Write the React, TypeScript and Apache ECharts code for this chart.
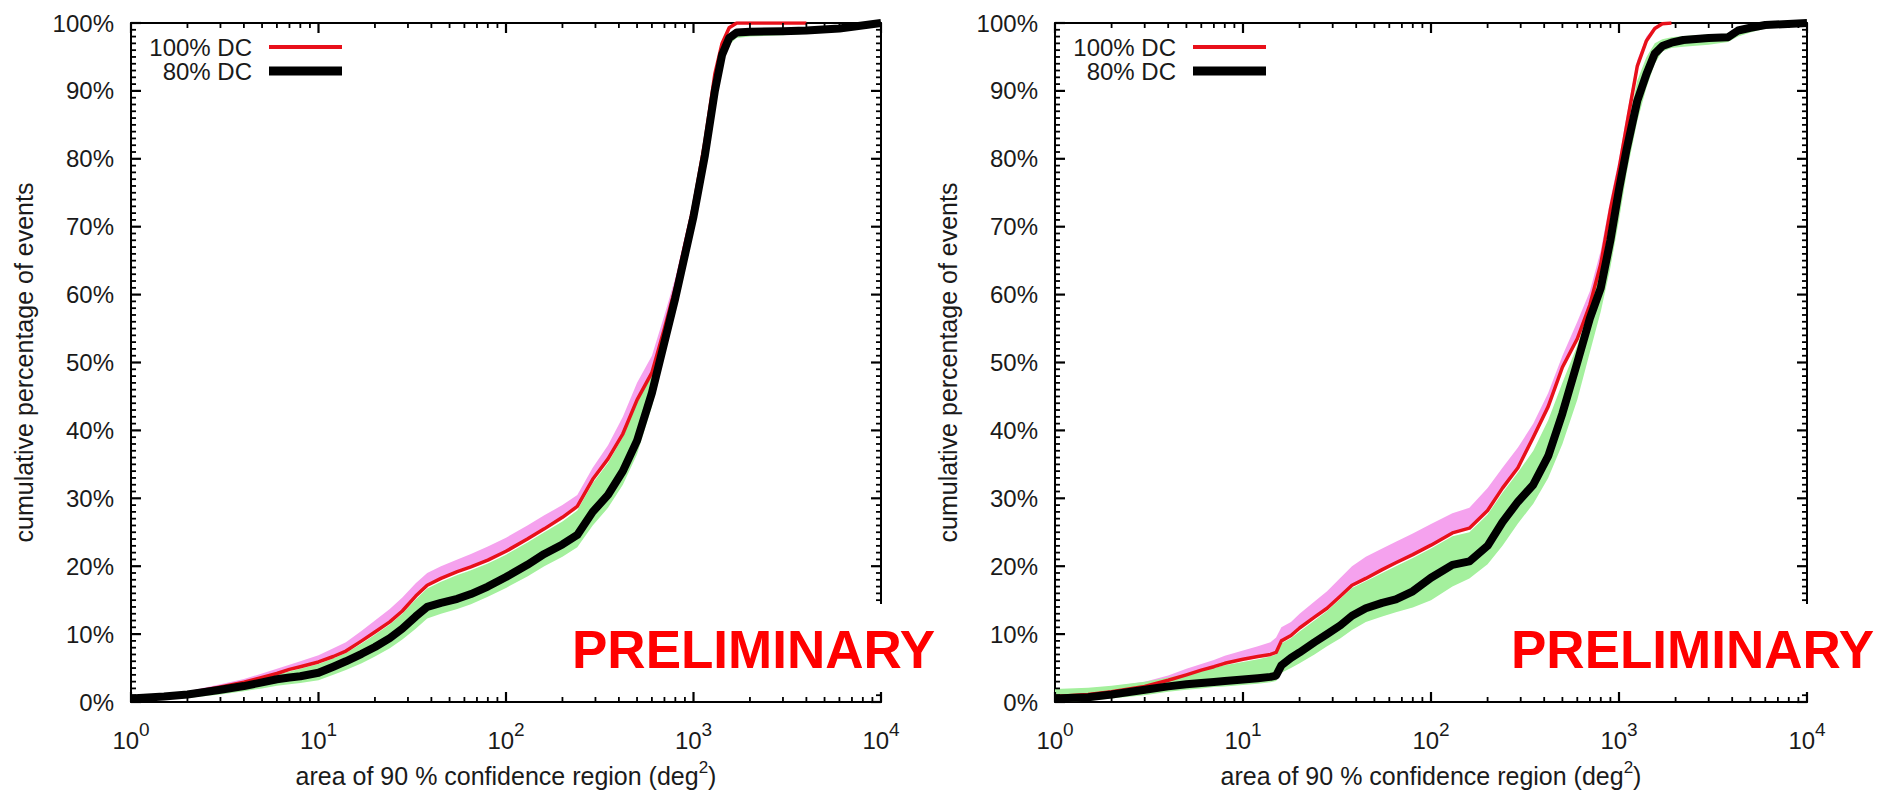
import React, { useEffect, useRef } from "react";
import * as echarts from "echarts";

// ---------------- data ----------------
const xsLeft = [1, 1.5, 2, 3, 4, 5, 6, 7, 8, 10, 12, 14, 17, 20, 24, 28, 33, 38, 45, 55, 65, 80, 100, 130, 160, 200, 240, 290, 350, 420, 500, 600, 700, 800, 1000, 1150, 1300, 1420, 1550, 1700, 2000, 3000, 4000, 6000, 10000];
const redLeft = [0.5, 0.85, 1.3, 2.2, 2.9, 3.6, 4.2, 4.8, 5.2, 5.9, 6.7, 7.5, 9.0, 10.3, 11.8, 13.4, 15.6, 17.2, 18.2, 19.2, 19.9, 20.9, 22.2, 24.0, 25.5, 27.2, 28.8, 32.8, 35.8, 39.5, 44.5, 48.5, 55, 61, 73, 82.5, 92.5, 97, 99.3, 100, 100, 100, 100, null, null];
const blackLeft = [0.5, 0.8, 1.1, 1.8, 2.35, 2.9, 3.35, 3.6, 3.8, 4.3, 5.2, 6.0, 7.1, 8.1, 9.4, 10.8, 12.6, 14.0, 14.6, 15.2, 15.9, 17.0, 18.4, 20.2, 21.8, 23.2, 24.6, 28.0, 30.5, 34.0, 38.5, 45.5, 53.0, 59.5, 71.5, 80.5, 90, 95.3, 97.8, 98.6, 98.7, 98.8, 98.9, 99.2, 100];
const pinkHiLeft = [0.7, 1.1, 1.6, 2.6, 3.4, 4.2, 4.9, 5.5, 6.0, 6.9, 7.9, 8.8, 10.5, 12.0, 13.7, 15.4, 17.5, 19.0, 20.0, 21.0, 21.8, 22.9, 24.2, 26.0, 27.5, 29.0, 30.5, 34.5, 37.8, 42.0, 47, 51, 57, 62.5, 74, 83, 93, 97.5, 99.5, 100, 100, 100, 100, 100, 100];
const greenLoLeft = [0.2, 0.4, 0.6, 1.1, 1.6, 2.0, 2.4, 2.6, 2.8, 3.2, 4.0, 4.7, 5.7, 6.7, 7.9, 9.2, 10.8, 12.3, 13.0, 13.7, 14.4, 15.5, 16.8, 18.5, 20.0, 21.4, 22.8, 26.0, 28.6, 32.0, 36.5, 43.5, 51, 57.5, 69.5, 78.5, 88, 93.8, 96.8, 97.8, 98.0, 98.2, 98.4, 98.8, 99.6];
const greenHiLeft = [0.8, 1.0, 1.3, 2.1, 2.8, 3.4, 4.0, 4.5, 4.9, 5.6, 6.4, 7.2, 8.6, 9.9, 11.4, 13.0, 15.1, 16.7, 17.7, 18.7, 19.4, 20.4, 21.7, 23.5, 25.0, 26.6, 28.2, 32.2, 35.2, 39.0, 44.5, 48.0, 54.5, 60.5, 72.5, 82, 92, 96.5, 98.5, 99.0, 99.0, 99.1, 99.2, 99.5, 100];

const xsRight = [1, 1.5, 2, 3, 4, 5, 6, 7, 8, 10, 12, 14, 15, 16, 18, 20, 24, 28, 33, 38, 45, 55, 65, 80, 100, 130, 160, 200, 240, 290, 350, 420, 500, 600, 700, 800, 900, 1000, 1100, 1250, 1400, 1550, 1700, 1900, 2200, 3000, 3800, 4300, 5000, 6000, 10000];
const redRight = [0.8, 1.1, 1.5, 2.3, 3.2, 4.0, 4.7, 5.2, 5.7, 6.3, 6.7, 7.0, 7.3, 9.0, 9.8, 10.9, 12.5, 13.8, 15.6, 17.2, 18.2, 19.5, 20.5, 21.7, 23.1, 24.9, 25.6, 28.2, 31.5, 34.5, 39, 43.5, 49.3, 53.5, 58.5, 64.5, 72.5, 78.5, 85, 93.6, 97.4, 99.2, 99.9, 100, null, null, null, null, null, null, null];
const blackRight = [0.5, 0.7, 1.1, 1.8, 2.3, 2.6, 2.8, 2.95, 3.1, 3.3, 3.5, 3.7, 3.9, 5.4, 6.5, 7.3, 8.8, 10.0, 11.3, 12.7, 13.8, 14.6, 15.1, 16.3, 18.3, 20.2, 20.7, 23.0, 26.5, 29.5, 32.0, 36.2, 42.5, 50.0, 56.5, 61, 68, 75.5, 81.5, 88.5, 92.5, 95.5, 96.6, 97.1, 97.5, 97.8, 97.9, 98.9, 99.3, 99.7, 100];
const pinkHiRight = [1.8, 2.0, 2.3, 3.0, 3.9, 4.9, 5.6, 6.2, 6.8, 7.6, 8.2, 8.8, 9.5, 11.0, 11.8, 13.0, 14.8, 16.3, 18.3, 20.0, 21.4, 22.6, 23.6, 24.8, 26.2, 27.8, 28.6, 31.5, 34.5, 37.5, 41.0, 45.5, 51, 56, 60.5, 66.5, 74, 80, 86.5, 94.5, 98, 99.5, 100, 100, 100, 100, 100, 100, 100, 100, 100];
const greenLoRight = [0.0, 0.2, 0.5, 1.0, 1.5, 1.8, 2.0, 2.2, 2.3, 2.5, 2.7, 2.9, 3.1, 4.3, 5.0, 5.7, 7.0, 8.2, 9.4, 10.6, 11.8, 12.6, 13.2, 13.9, 15.0, 17.0, 18.2, 20.3, 23.0, 26.3, 29.2, 33.0, 38.0, 44.5, 51.5, 57.5, 64, 71, 78, 85.5, 90.5, 94, 95.8, 96.3, 96.5, 96.8, 97.2, 98.0, 98.6, 99.2, 99.8];
const greenHiRight = [1.9, 2.1, 2.4, 3.0, 3.6, 4.1, 4.6, 5.0, 5.4, 5.9, 6.3, 6.7, 7.0, 8.6, 9.4, 10.4, 12.0, 13.4, 15.2, 16.8, 17.8, 19.0, 20.0, 21.2, 22.6, 24.4, 25.0, 27.6, 30.8, 33.8, 37.0, 41.5, 47, 52.5, 58, 63.5, 71, 77.5, 84, 91.5, 95, 97, 97.6, 97.9, 98.1, 98.3, 98.4, 99.3, 99.7, 100, 100];

const xMajorTickValues = [1, 10, 100, 1000, 10000];
const xMinorTickValues = [2, 3, 4, 5, 6, 7, 8, 9, 20, 30, 40, 50, 60, 70, 80, 90, 200, 300, 400, 500, 600, 700, 800, 900, 2000, 3000, 4000, 5000, 6000, 7000, 8000, 9000];
const yMajorTickValues = [0, 10, 20, 30, 40, 50, 60, 70, 80, 90, 100];
const yMinorStep = 1;
const seriesNames = ["100% DC", "80% DC"];
const yAxisTitle = "cumulative percentage of events";
const xAxisTitle = "area of 90 % confidence region (deg{s|2})";
const watermark = "PRELIMINARY";

// ---------------- styling / layout ----------------
const FONT = '"Liberation Sans", Arial, Helvetica, sans-serif';
const TXT = "#1a1a1a";
const RED = "#e8101a";
const PINK = "#f5a2ee";
const GREEN = "#a4f09d";
const W = 1892;
const H = 798;
const MAJOR_LEN = 10;
const MINOR_LEN = 5;

const panels = [
  { xs: xsLeft, red: redLeft, black: blackLeft, pinkHi: pinkHiLeft, greenLo: greenLoLeft, greenHi: greenHiLeft },
  { xs: xsRight, red: redRight, black: blackRight, pinkHi: pinkHiRight, greenLo: greenLoRight, greenHi: greenHiRight },
];
const grids = [
  { left: 131, top: 23, width: 750, height: 692 },
  { left: 1055, top: 23, width: 752, height: 692 },
];
const legendRight = [W - 342, W - 1266];
const stampBox = [
  { x: 560, y: 604, w: 388, h: 88, tx: 572 },
  { x: 1500, y: 604, w: 390, h: 88, tx: 1511 },
];

function bandRenderer(color: string) {
  return (params: any, api: any) => {
    if (params.dataIndexInside !== 0) return null;
    const n = params.dataInsideLength;
    const upper: number[][] = [];
    const lower: number[][] = [];
    for (let i = 0; i < n; i++) {
      const x = api.value(0, i);
      upper.push(api.coord([x, api.value(2, i)]));
      lower.push(api.coord([x, api.value(1, i)]));
    }
    return { type: "polygon", shape: { points: upper.concat(lower.reverse()) }, style: { fill: color }, silent: true };
  };
}

function buildOption() {
  const xAxes: any[] = [];
  const yAxes: any[] = [];
  const series: any[] = [];
  panels.forEach((p, g) => {
    xAxes.push({
      type: "log", logBase: 10, gridIndex: g, min: 1, max: 10000, position: "bottom",
      axisLine: { show: true, onZero: false, lineStyle: { color: "#000", width: 2 } },
      axisTick: { show: false }, splitLine: { show: false },
      axisLabel: {
        margin: 18,
        formatter: (v: number) => `{b|10}{s|${Math.round(Math.log10(v))}}`,
        rich: {
          b: { fontSize: 24, lineHeight: 40, fontFamily: FONT, color: TXT },
          s: { fontSize: 19, lineHeight: 19, verticalAlign: "top", fontFamily: FONT, color: TXT },
        },
      },
      name: xAxisTitle, nameLocation: "middle", nameGap: 57,
      nameTextStyle: {
        fontSize: 25, lineHeight: 34, fontFamily: FONT, color: TXT,
        rich: { s: { fontSize: 17, lineHeight: 17, verticalAlign: "top", fontFamily: FONT, color: TXT } },
      },
    });
    xAxes.push({
      type: "log", logBase: 10, gridIndex: g, min: 1, max: 10000, position: "top",
      axisLine: { show: true, onZero: false, lineStyle: { color: "#000", width: 2 } },
      axisTick: { show: false }, axisLabel: { show: false }, splitLine: { show: false },
    });
    yAxes.push({
      type: "value", gridIndex: g, min: 0, max: 100, interval: 10, position: "left",
      axisLine: { show: true, onZero: false, lineStyle: { color: "#000", width: 2 } },
      axisTick: { show: false }, splitLine: { show: false },
      axisLabel: { margin: 17, formatter: "{value}%", fontSize: 24, fontFamily: FONT, color: TXT },
      name: yAxisTitle, nameLocation: "middle", nameGap: 92,
      nameTextStyle: { fontSize: 25, lineHeight: 30, fontFamily: FONT, color: TXT },
    });
    yAxes.push({
      type: "value", gridIndex: g, min: 0, max: 100, interval: 10, position: "right",
      axisLine: { show: true, onZero: false, lineStyle: { color: "#000", width: 2 } },
      axisTick: { show: false }, axisLabel: { show: false }, splitLine: { show: false },
    });
    const xi = g * 2;
    const yi = g * 2;
    const pinkLo = p.red.map((v, i) => (v == null ? p.pinkHi[i] : v));
    series.push({
      type: "custom", name: "100% DC band", xAxisIndex: xi, yAxisIndex: yi, clip: true, z: 1, silent: true,
      data: p.xs.map((x, i) => [x, pinkLo[i], p.pinkHi[i]]), encode: { x: 0, y: [1, 2] }, renderItem: bandRenderer(PINK),
    });
    series.push({
      type: "custom", name: "80% DC band", xAxisIndex: xi, yAxisIndex: yi, clip: true, z: 1, silent: true,
      data: p.xs.map((x, i) => [x, p.greenLo[i], p.greenHi[i]]), encode: { x: 0, y: [1, 2] }, renderItem: bandRenderer(GREEN),
    });
    series.push({
      type: "line", name: seriesNames[0], xAxisIndex: xi, yAxisIndex: yi, clip: true, z: 3, silent: true,
      data: p.xs.map((x, i) => [x, p.red[i]]), symbol: "none", showSymbol: false, connectNulls: false,
      itemStyle: { color: RED }, lineStyle: { color: RED, width: 3.5, join: "round" },
    });
    series.push({
      type: "line", name: seriesNames[1], xAxisIndex: xi, yAxisIndex: yi, clip: true, z: 4, silent: true,
      data: p.xs.map((x, i) => [x, p.black[i]]), symbol: "none", showSymbol: false,
      itemStyle: { color: "#000" }, lineStyle: { color: "#000", width: 8, join: "round" },
    });
  });
  const legends: any[] = [];
  legendRight.forEach((r) => {
    seriesNames.forEach((name, k) => {
      legends.push({
        data: [name], right: r, top: k === 0 ? 35 : 59, orient: "horizontal", align: "right",
        icon: "rect", itemWidth: 73, itemHeight: k === 0 ? 4 : 9, itemGap: 0, padding: 0,
        selectedMode: false, itemStyle: { borderWidth: 0 },
        textStyle: { fontSize: 24, lineHeight: 24, fontFamily: FONT, color: TXT, padding: [0, 12, 0, 0] },
      });
    });
  });
  return {
    animation: false, backgroundColor: "#fff", textStyle: { fontFamily: FONT },
    grid: grids, xAxis: xAxes, yAxis: yAxes, legend: legends, series,
  };
}

// tick marks on all four edges, positioned through the chart's own axis scales
function buildTickGraphics(chart: any) {
  const out: any[] = [];
  const yMin = yMajorTickValues[0];
  const yMax = yMajorTickValues[yMajorTickValues.length - 1];
  const xMin = xMajorTickValues[0];
  const xMax = xMajorTickValues[xMajorTickValues.length - 1];
  const yMinor: number[] = [];
  for (let v = yMin + yMinorStep; v < yMax; v += yMinorStep) {
    if (yMajorTickValues.indexOf(v) < 0) yMinor.push(v);
  }
  grids.forEach((_, g) => {
    const finder = { xAxisIndex: g * 2, yAxisIndex: g * 2 };
    const xTick = (v: number, len: number) => {
      const w = len > 6 ? 2.2 : 1.8;
      const pb = chart.convertToPixel(finder, [v, yMin]);
      const pt = chart.convertToPixel(finder, [v, yMax]);
      out.push({ type: "rect", z: 40, silent: true, shape: { x: pb[0] - w / 2, y: pb[1] - len, width: w, height: len }, style: { fill: "#000" } });
      out.push({ type: "rect", z: 40, silent: true, shape: { x: pt[0] - w / 2, y: pt[1], width: w, height: len }, style: { fill: "#000" } });
    };
    const yTick = (v: number, len: number) => {
      const w = len > 6 ? 2.2 : 1.8;
      const pl = chart.convertToPixel(finder, [xMin, v]);
      const pr = chart.convertToPixel(finder, [xMax, v]);
      out.push({ type: "rect", z: 40, silent: true, shape: { x: pl[0], y: pl[1] - w / 2, width: len, height: w }, style: { fill: "#000" } });
      out.push({ type: "rect", z: 40, silent: true, shape: { x: pr[0] - len, y: pr[1] - w / 2, width: len, height: w }, style: { fill: "#000" } });
    };
    xMajorTickValues.forEach((v) => xTick(v, MAJOR_LEN));
    xMinorTickValues.forEach((v) => xTick(v, MINOR_LEN));
    yMajorTickValues.forEach((v) => yTick(v, MAJOR_LEN));
    yMinor.forEach((v) => yTick(v, MINOR_LEN));
  });
  return out;
}

function buildStampGraphics() {
  const out: any[] = [];
  stampBox.forEach((b) => {
    out.push({ type: "rect", x: b.x, y: b.y, z: 50, shape: { width: b.w, height: b.h }, style: { fill: "#fff" }, silent: true });
    out.push({
      type: "text", x: b.tx, y: b.y + 45, z: 51, silent: true,
      style: { text: watermark, fontSize: 53, fontWeight: "bold", fontFamily: FONT, fill: "#ff0000", align: "left", verticalAlign: "middle" },
    });
  });
  return out;
}

export default function App() {
  const ref = useRef<HTMLDivElement>(null);
  useEffect(() => {
    if (!ref.current) return;
    const chart = echarts.init(ref.current, null, { renderer: "svg" });
    chart.setOption(buildOption() as any);
    const graphics = buildTickGraphics(chart).concat(buildStampGraphics());
    chart.setOption({ graphic: graphics } as any);
    return () => chart.dispose();
  }, []);
  return <div ref={ref} style={{ position: "absolute", left: 0, top: 0, width: W, height: H, background: "#fff" }} />;
}
